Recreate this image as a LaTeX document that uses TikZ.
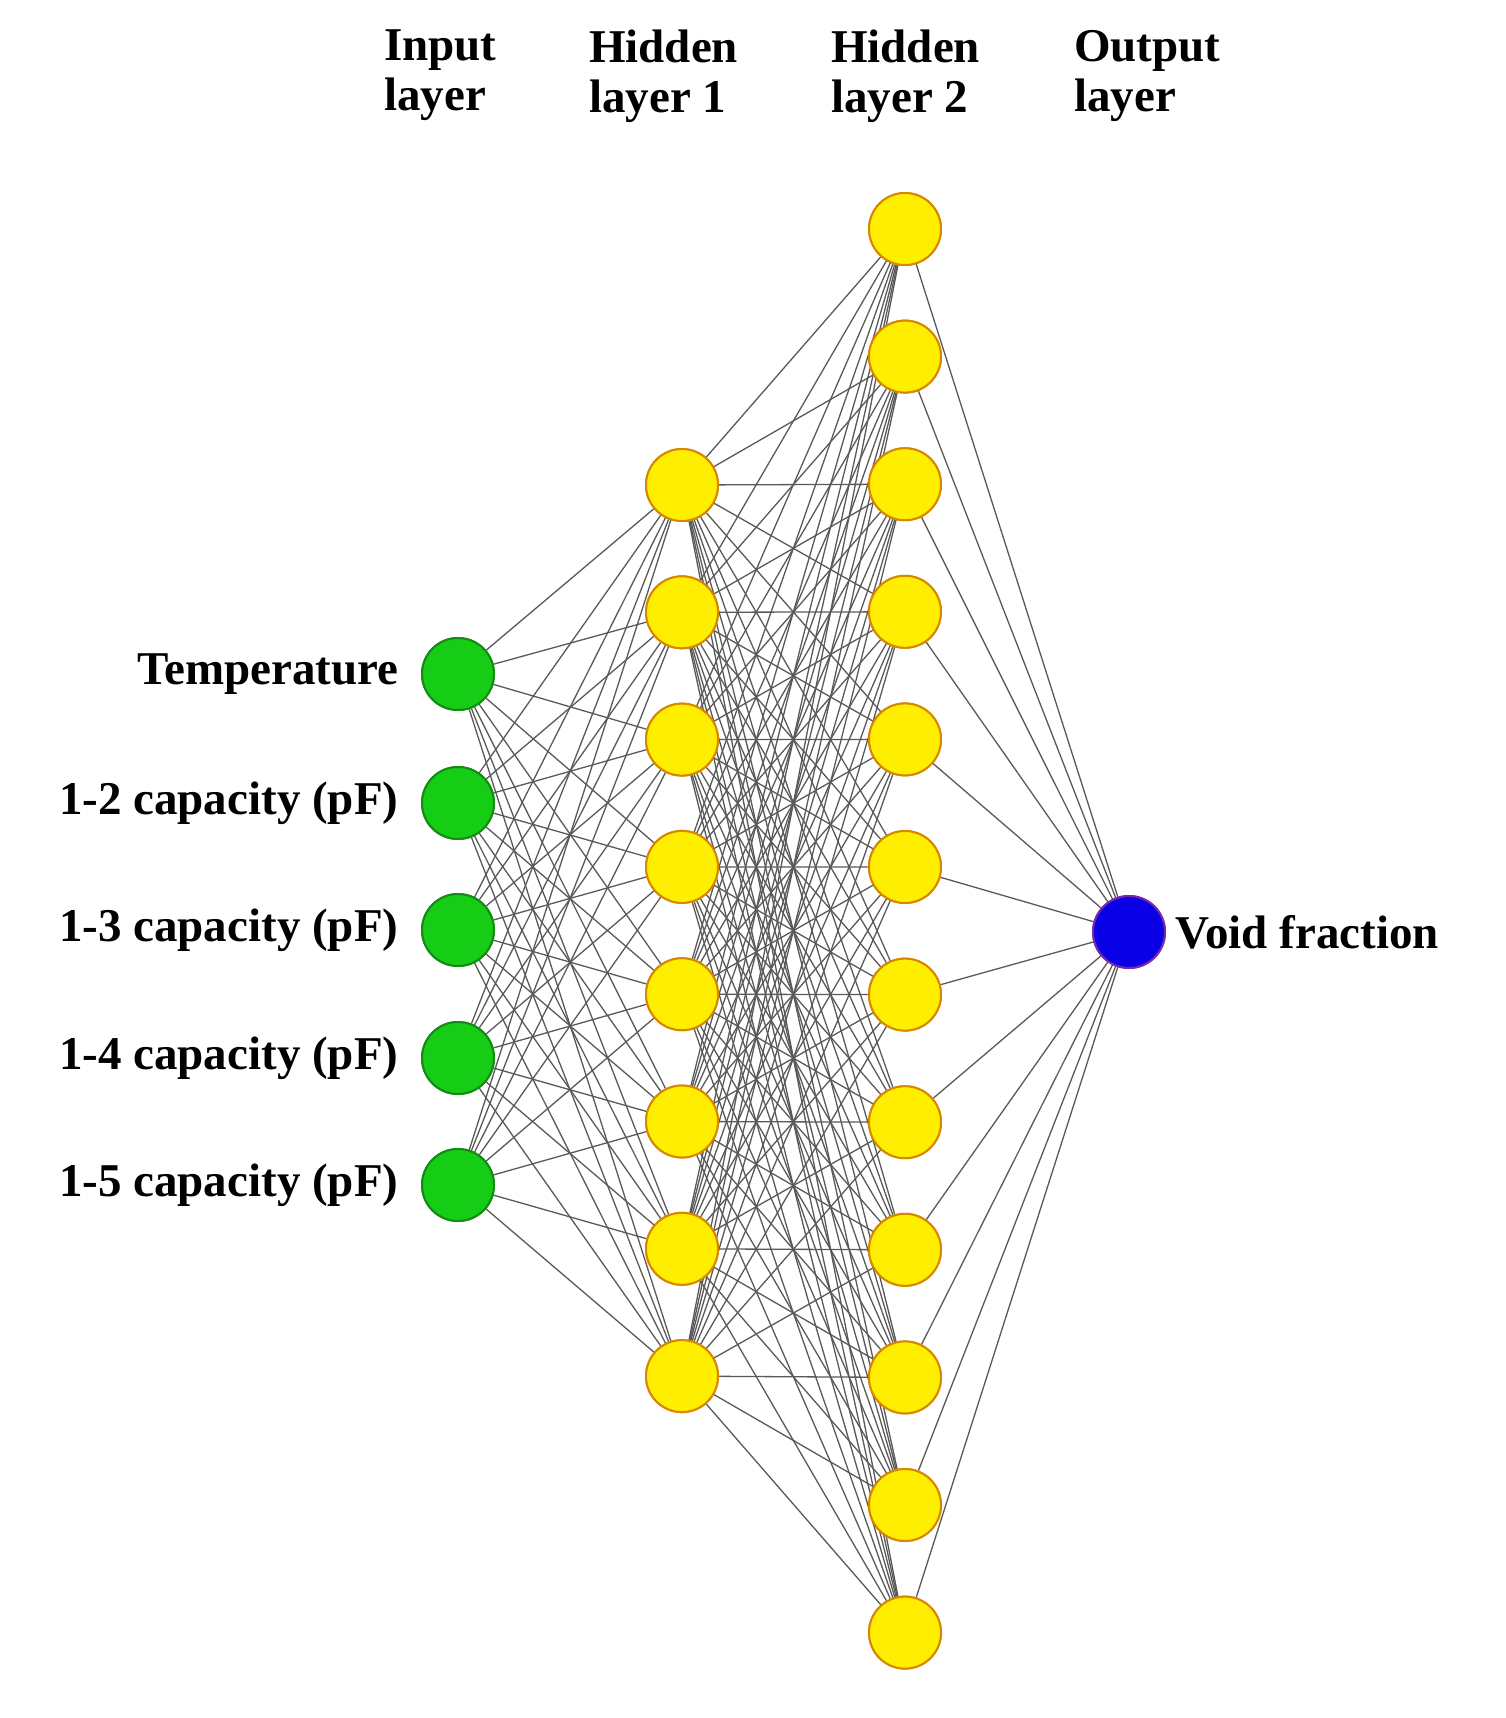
\documentclass[tikz,border=0pt]{standalone}
\usepackage{fontspec}
\setmainfont{Liberation Serif}
\begin{document}
\begin{tikzpicture}[x=1pt,y=-1pt,
  neu/.style={circle,minimum size=72pt,inner sep=0pt,line width=2pt},
  inp/.style={neu,fill={rgb,255:red,20;green,205;blue,20},draw={rgb,255:red,20;green,140;blue,20}},
  hid/.style={neu,fill={rgb,255:red,255;green,238;blue,0},draw={rgb,255:red,215;green,135;blue,0}},
  outn/.style={neu,fill={rgb,255:red,10;green,0;blue,230},draw={rgb,255:red,120;green,40;blue,170}},
  edge/.style={draw=gray!70!black,line width=1.3pt},
  lbl/.style={font=\fontsize{47}{50}\selectfont\bfseries},
  head/.style={lbl,align=left,anchor=north west,inner sep=0pt}]
\useasboundingbox (0,0) rectangle (1505,1718);
\foreach \i/\y in {1/674,2/803,3/930,4/1058,5/1185} \node[inp] (i\i) at (458,\y) {};
\foreach \i in {1,...,8} \node[hid] (a\i) at (682,{485+127.3*(\i-1)}) {};
\foreach \i in {1,...,12} \node[hid] (b\i) at (905,{229+127.6*(\i-1)}) {};
\node[outn] (o) at (1129,932) {};
\foreach \i in {1,...,5}\foreach \j in {1,...,8} \draw[edge] (i\i) -- (a\j);
\foreach \i in {1,...,8}\foreach \j in {1,...,12} \draw[edge] (a\i) -- (b\j);
\foreach \j in {1,...,12} \draw[edge] (b\j) -- (o);
\foreach \i in {1,...,5} \node[inp] at (i\i) {};
\foreach \i in {1,...,8} \node[hid] at (a\i) {};
\foreach \i in {1,...,12} \node[hid] at (b\i) {};
\node[outn] at (o) {};
\node[lbl,anchor=east] (t1) at (402,674) {Temperature};
\node[lbl,anchor=east] (t2) at (402,803) {1-2 capacity (pF)};
\node[lbl,anchor=east] (t3) at (402,930) {1-3 capacity (pF)};
\node[lbl,anchor=east] (t4) at (402,1058) {1-4 capacity (pF)};
\node[lbl,anchor=east] (t5) at (402,1185) {1-5 capacity (pF)};
\node[lbl,anchor=west] (tv) at (1172,932) {Void fraction};
\node[head] (h0) at (384,30) {Input\\layer};
\node[head] (h1) at (589,30) {Hidden\\layer 1};
\node[head] (h2) at (831,30) {Hidden\\layer 2};
\node[head] (h3) at (1074,30) {Output\\layer};
\end{tikzpicture}
\end{document}
